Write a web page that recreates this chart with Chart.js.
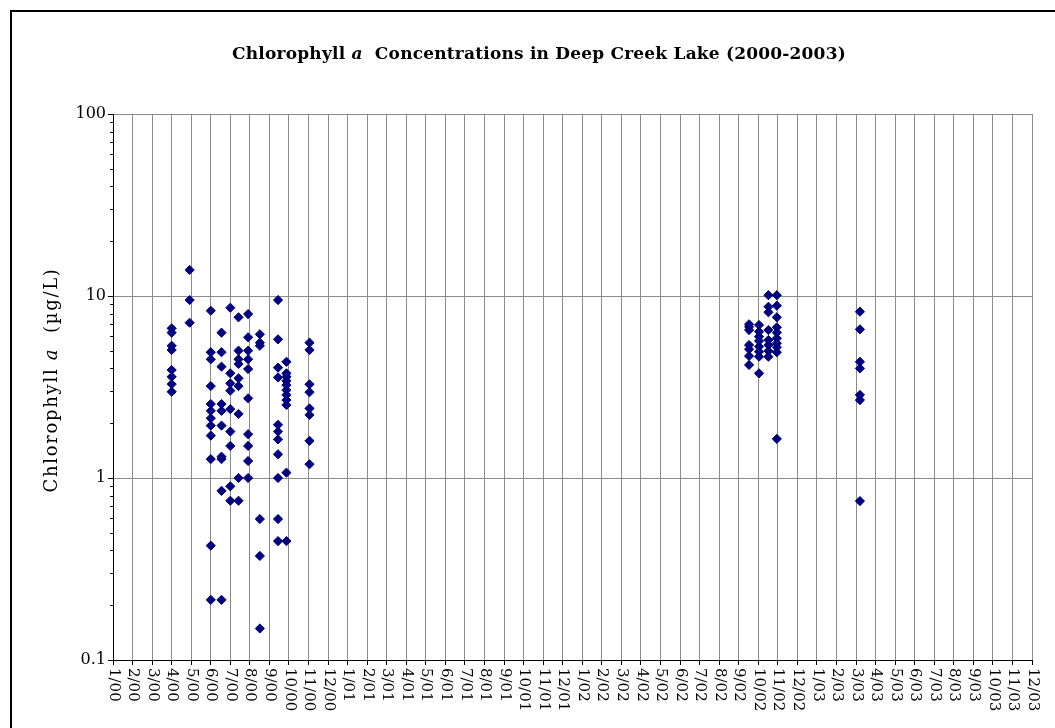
<!DOCTYPE html>
<html>
<head>
<meta charset="utf-8">
<script src="https://cdn.jsdelivr.net/npm/chart.js@4"></script>
<style>
  html, body { margin:0; padding:0; background:#fff; overflow:hidden; }
  #wrap { position:relative; width:1055px; height:728px; }
  #c { position:absolute; left:0; top:0; }
  #frame { position:absolute; left:10px; top:10px; width:1100px; height:800px;
           border-left:2px solid #000; border-top:2px solid #000; pointer-events:none; }
  #title { position:absolute; left:539px; top:53px; transform:translate(-50%,-50%);
           white-space:nowrap; font: bold 17px "DejaVu Serif", serif; color:#000; }
  #ylab { position:absolute; left:50px; top:380px; transform:translate(-50%,-50%) rotate(-90deg);
          white-space:nowrap; font: 18px "DejaVu Serif", serif; color:#000; }
</style>
</head>
<body>
<div id="wrap">
  <canvas id="c" width="1055" height="728"></canvas>
  <div id="frame"></div>
  <div id="title">Chlorophyll <i>a</i>&nbsp; Concentrations in Deep Creek Lake (2000-2003)</div>
  <div id="ylab">Chlorophyll <i>a</i>&nbsp; (µg/L)</div>
</div>
<script>
// ---- Tick labels ----
const monthLabels = [
  '1/00','2/00','3/00','4/00','5/00','6/00','7/00','8/00','9/00','10/00','11/00','12/00',
  '1/01','2/01','3/01','4/01','5/01','6/01','7/01','8/01','9/01','10/01','11/01','12/01',
  '1/02','2/02','3/02','4/02','5/02','6/02','7/02','8/02','9/02','10/02','11/02','12/02',
  '1/03','2/03','3/03','4/03','5/03','6/03','7/03','8/03','9/03','10/03','11/03','12/03'
];
const yTickValues = [0.1, 1, 10, 100];
const yTickLabels = ['0.1', '1', '10', '100'];

// ---- Sampling dates (months after 1/00) ----
const sampleMonths = [3.0, 3.92, 5.0, 5.55, 6.0, 6.42, 6.91, 7.51, 8.44, 8.87, 10.05,
                      32.53, 33.04, 33.52, 33.95, 38.2];

// ---- Chlorophyll a values (µg/L) per sampling date ----
const chl_2000_04a = [6.64, 6.29, 5.33, 5.05, 3.92, 3.60, 3.28, 2.98];
const chl_2000_04b = [13.9, 9.5, 7.13];
const chl_2000_06a = [8.3, 4.91, 4.49, 3.2, 2.55, 2.34, 2.13, 1.94, 1.71, 1.27, 0.425, 0.214];
const chl_2000_06b = [6.29, 4.91, 4.09, 2.55, 2.34, 1.94, 1.31, 1.27, 0.85, 0.214];
const chl_2000_07a = [8.62, 3.76, 3.31, 3.02, 2.39, 1.80, 1.50, 0.90, 0.75];
const chl_2000_07b = [7.64, 5.01, 4.49, 4.23, 3.53, 3.2, 2.25, 1.0, 0.75];
const chl_2000_07c = [7.96, 5.93, 5.01, 4.49, 3.97, 2.74, 1.74, 1.50, 1.24, 1.0];
const chl_2000_08  = [6.16, 5.54, 5.33, 0.595, 0.373, 0.149];
const chl_2000_09a = [9.5, 5.78, 4.04, 3.57, 1.96, 1.80, 1.63, 1.35, 1.0, 0.595, 0.45];
const chl_2000_09b = [4.35, 3.76, 3.60, 3.42, 3.24, 3.04, 2.86, 2.68, 2.52, 1.07, 0.45];
const chl_2000_11  = [5.54, 5.05, 3.27, 2.96, 2.41, 2.22, 1.60, 1.19];
const chl_2002_09  = [6.99, 6.78, 6.50, 5.38, 5.10, 4.68, 4.18];
const chl_2002_10a = [6.93, 6.37, 5.98, 5.66, 5.27, 4.94, 4.64, 3.76];
const chl_2002_10b = [10.1, 8.73, 8.14, 6.5, 5.73, 5.38, 4.99, 4.64];
const chl_2002_10c = [10.1, 8.85, 7.64, 6.73, 6.29, 5.86, 5.50, 5.23, 4.91, 1.64];
const chl_2003_03  = [8.2, 6.56, 4.35, 4.0, 2.86, 2.68, 0.747];

const sampleValues = [chl_2000_04a, chl_2000_04b, chl_2000_06a, chl_2000_06b, chl_2000_07a,
  chl_2000_07b, chl_2000_07c, chl_2000_08, chl_2000_09a, chl_2000_09b, chl_2000_11,
  chl_2002_09, chl_2002_10a, chl_2002_10b, chl_2002_10c, chl_2003_03];

const points = [];
sampleMonths.forEach((m, i) => sampleValues[i].forEach(v => points.push({x: m, y: v})));

// fit text widths to reference
function fitWidth(id, target) {
  const el = document.getElementById(id);
  const n = el.textContent.length;
  const r = el.getBoundingClientRect();
  const cur = id === 'ylab' ? r.height : r.width;
  el.style.letterSpacing = ((target - cur) / n).toFixed(2) + 'px';
}
fitWidth('title', 614);
fitWidth('ylab', 225);

const GRID = '#8c8c8c';
const FONT = 'DejaVu Serif';

const extras = {
  id: 'extras',
  afterDraw(chart) {
    const ctx = chart.ctx;
    const xs = chart.scales.x, ys = chart.scales.y;
    ctx.save();
    // minor y ticks
    ctx.strokeStyle = '#000';
    ctx.lineWidth = 1;
    [0.1, 1, 10].forEach(d => {
      for (let k = 2; k <= 9; k++) {
        const y = Math.round(ys.getPixelForValue(d * k)) + 0.5;
        ctx.beginPath();
        ctx.moveTo(ys.right - 3, y);
        ctx.lineTo(ys.right, y);
        ctx.stroke();
      }
    });
    // rotated x labels (reading top to bottom)
    ctx.fillStyle = '#000';
    ctx.font = '15px "' + FONT + '"';
    ctx.textAlign = 'left';
    ctx.textBaseline = 'middle';
    monthLabels.forEach((lab, i) => {
      const x = xs.getPixelForValue(i);
      ctx.save();
      ctx.translate(x + 0.5, xs.top + 8);
      ctx.rotate(Math.PI / 2);
      ctx.fillText(lab, 0, 0);
      ctx.restore();
    });
    ctx.restore();
  }
};

new Chart(document.getElementById('c'), {
  type: 'scatter',
  data: {
    datasets: [{
      data: points,
      pointStyle: 'rectRot',
      pointRadius: 4.6,
      pointHoverRadius: 4.6,
      backgroundColor: '#000080',
      borderColor: '#000080',
      borderWidth: 1
    }]
  },
  options: {
    responsive: false,
    animation: false,
    events: [],
    layout: { padding: { left: 0, right: 23, top: 114, bottom: 0 } },
    plugins: { legend: { display: false }, title: { display: false }, tooltip: { enabled: false } },
    scales: {
      x: {
        type: 'linear',
        min: 0, max: monthLabels.length - 1,
        afterBuildTicks(scale) {
          scale.ticks = monthLabels.map((l, i) => ({ value: i }));
        },
        afterFit(scale) { scale.height = 68; },
        ticks: { display: false, autoSkip: false },
        grid: { color: GRID, lineWidth: 1, drawTicks: true, tickLength: 5, tickColor: '#000' },
        border: { display: true, color: '#000', width: 1 }
      },
      y: {
        type: 'logarithmic',
        min: 0.1, max: 100,
        afterBuildTicks(scale) {
          scale.ticks = yTickValues.map(v => ({ value: v, major: true }));
        },
        afterFit(scale) { scale.width = 113; },
        ticks: {
          autoSkip: false,
          padding: 2,
          color: '#000',
          font: { family: FONT, size: 16 },
          callback: (v) => { const i = yTickValues.indexOf(v); return i >= 0 ? yTickLabels[i] : ''; }
        },
        grid: { color: GRID, lineWidth: 1, drawTicks: true, tickLength: 5, tickColor: '#000' },
        border: { display: true, color: '#000', width: 1 }
      }
    }
  },
  plugins: [extras]
});
</script>
</body>
</html>
